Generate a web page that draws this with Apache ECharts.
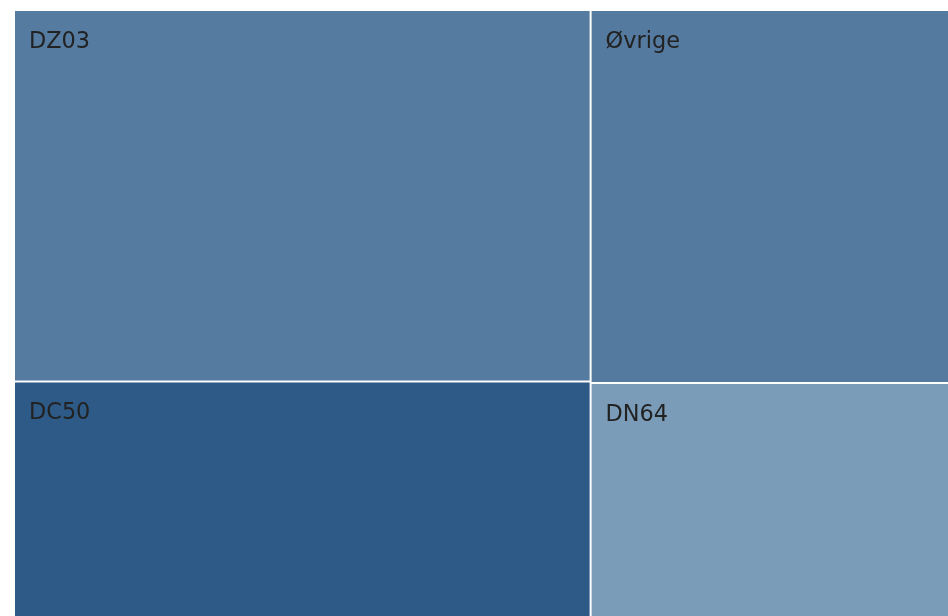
<!DOCTYPE html>
<html>
<head>
<meta charset="utf-8">
<script src="https://cdn.jsdelivr.net/npm/echarts@6/dist/echarts.min.js"></script>
<style>html,body{margin:0;padding:0;background:#fff}#c{width:948px;height:616px}</style>
</head>
<body>
<div id="c"></div>
<script>
// Data
const groupNames = ['A', 'B'];
const leftNames = ['DZ03', 'DC50'];
const leftValues = [377.5, 239.2];
const rightNames = ['Øvrige', 'DN64'];
const rightValues = [235.6, 147.7];
const leftColors = ['#557ba0', '#2e5a87'];
const rightColors = ['#547a9f', '#7a9cb8'];

function leaves(names, values, colors) {
  return names.map((n, i) => ({ name: n, value: values[i], itemStyle: { color: colors[i] } }));
}

const chart = echarts.init(document.getElementById('c'), null, { renderer: 'canvas' });
chart.setOption({
  animation: false,
  series: [{
    type: 'treemap',
    left: 14, top: 10, right: -1, bottom: -1,
    roam: false,
    nodeClick: false,
    breadcrumb: { show: false },
    squareRatio: 1,
    label: {
      show: true,
      position: [9, 15],
      fontFamily: 'DejaVu Sans',
      fontSize: 22.4,
      color: '#222222'
    },
    upperLabel: { show: false },
    levels: [
      { itemStyle: { borderWidth: 0, gapWidth: 0 } },
      { itemStyle: { borderWidth: 0, gapWidth: 0 } },
      { itemStyle: { borderWidth: 1, borderColor: '#ffffff', gapWidth: 0 } }
    ],
    data: [
      { name: groupNames[0], children: leaves(leftNames, leftValues, leftColors) },
      { name: groupNames[1], children: leaves(rightNames, rightValues, rightColors) }
    ]
  }]
});
</script>
</body>
</html>
